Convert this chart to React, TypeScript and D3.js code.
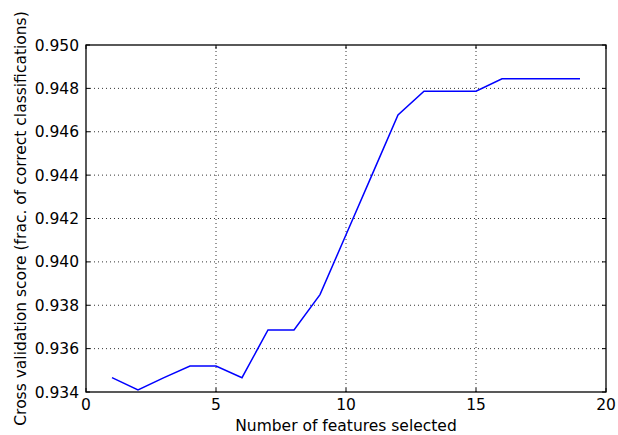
import React from "react";
import * as d3 from "d3";

// Number of features selected vs. cross-validation score
const featureCounts = [1, 2, 3, 4, 5, 6, 7, 8, 9, 10, 11, 12, 13, 14, 15, 16, 17, 18, 19];
const cvScores = [
  0.93466, 0.9341, 0.93466, 0.9352, 0.9352, 0.93466, 0.93686, 0.93686, 0.93849,
  0.94125, 0.94401, 0.94677, 0.94787, 0.94787, 0.94787, 0.94844, 0.94844, 0.94844, 0.94844,
];
const xTicks = [0, 5, 10, 15, 20];
const yTicks = [0.934, 0.936, 0.938, 0.94, 0.942, 0.944, 0.946, 0.948, 0.95];

const W = 618;
const H = 435;
const margin = { left: 86, right: 12, top: 45, bottom: 43 };
const font = "'DejaVu Sans', sans-serif";
const fs = 15.5;

export default function App() {
  const x = d3.scaleLinear().domain([0, 20]).range([margin.left, W - margin.right]);
  const y = d3.scaleLinear().domain([0.934, 0.95]).range([H - margin.bottom, margin.top]);
  const pts: [number, number][] = featureCounts.map((f, i) => [f, cvScores[i]]);
  const line = d3
    .line<[number, number]>()
    .x((d) => x(d[0]))
    .y((d) => y(d[1]));
  const x0 = x(0), x1 = x(20), y0 = y(0.934), y1 = y(0.95);
  const tl = 4;

  return (
    <svg
      width={W}
      height={H}
      style={{ position: "absolute", left: 0, top: 0, background: "#fff" }}
      fontFamily={font}
    >
      {/* grid */}
      <g stroke="#000" strokeWidth={0.8} strokeDasharray="1,3">
        {xTicks.slice(1, -1).map((t) => (
          <line key={"gx" + t} x1={x(t)} x2={x(t)} y1={y0} y2={y1} />
        ))}
        {yTicks.slice(1, -1).map((t) => (
          <line key={"gy" + t} x1={x0} x2={x1} y1={y(t)} y2={y(t)} />
        ))}
      </g>
      {/* data line */}
      <path d={line(pts) ?? ""} fill="none" stroke="#0000ff" strokeWidth={1.5} />
      {/* ticks */}
      <g stroke="#000" strokeWidth={1}>
        {xTicks.map((t) => (
          <g key={"tx" + t}>
            <line x1={x(t)} x2={x(t)} y1={y0} y2={y0 - tl} />
            <line x1={x(t)} x2={x(t)} y1={y1} y2={y1 + tl} />
          </g>
        ))}
        {yTicks.map((t) => (
          <g key={"ty" + t}>
            <line x1={x0} x2={x0 + tl} y1={y(t)} y2={y(t)} />
            <line x1={x1} x2={x1 - tl} y1={y(t)} y2={y(t)} />
          </g>
        ))}
      </g>
      {/* frame */}
      <rect x={x0} y={y1} width={x1 - x0} height={y0 - y1} fill="none" stroke="#000" strokeWidth={1.3} />
      {/* tick labels */}
      <g fontSize={fs} fill="#000">
        {xTicks.map((t) => (
          <text key={"lx" + t} x={x(t)} y={y0 + 18} textAnchor="middle">
            {t}
          </text>
        ))}
        {yTicks.map((t) => (
          <text key={"ly" + t} x={x0 - 7} y={y(t)} dy="0.36em" textAnchor="end">
            {d3.format(".3f")(t)}
          </text>
        ))}
      </g>
      {/* axis labels */}
      <text x={(x0 + x1) / 2} y={431} textAnchor="middle" fontSize={fs}>
        Number of features selected
      </text>
      <text
        transform={`translate(26,${(y0 + y1) / 2}) rotate(-90)`}
        textAnchor="middle"
        fontSize={fs}
      >
        Cross validation score (frac. of correct classifications)
      </text>
    </svg>
  );
}
